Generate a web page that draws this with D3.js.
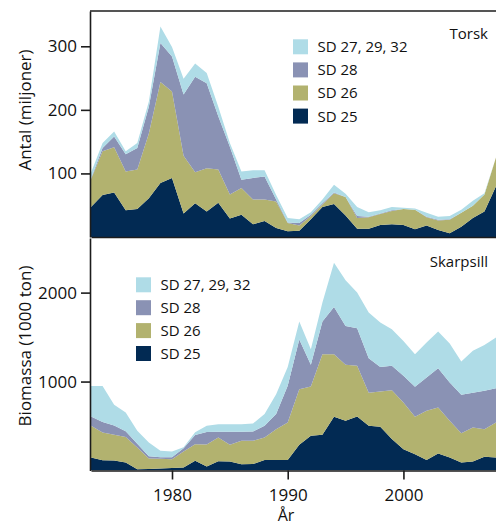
<!DOCTYPE html>
<html>
<head>
<meta charset="utf-8">
<script src="https://cdn.jsdelivr.net/npm/d3@7"></script>
<style>
  html, body { margin: 0; padding: 0; background: #fff; }
  svg { display: block; font-family: "Open Sans", sans-serif; }
</style>
</head>
<body>
<svg id="chart" width="496" height="525"></svg>
<script>
// Years on the x axis
const years = [1973, 1974, 1975, 1976, 1977, 1978, 1979, 1980, 1981, 1982, 1983, 1984,
               1985, 1986, 1987, 1988, 1989, 1990, 1991, 1992, 1993, 1994, 1995, 1996,
               1997, 1998, 1999, 2000, 2001, 2002, 2003, 2004, 2005, 2006, 2007, 2008];

// Subdivisions, stacked bottom to top
const areaKeys   = ["sd25", "sd26", "sd28", "sd27"];
const areaLabels = ["SD 25", "SD 26", "SD 28", "SD 27, 29, 32"];
const areaColors = ["#022a53", "#b2b26f", "#8a92b4", "#afdce7"];

// Torsk, antal (miljoner)
const codSD25 = [47, 66, 70, 42, 44, 61, 85, 93, 37, 53, 40, 54, 29, 35, 20, 25, 14, 9,
                 10, 28, 47, 52, 34, 13, 13, 19, 20, 19, 12, 18, 11, 6, 16, 30, 40, 80];
const codSD26 = [44, 69, 71, 61, 62, 102, 159, 136, 91, 49, 68, 52, 38, 42, 39, 34, 42, 13,
                 8, 5, 4, 17, 29, 17, 18, 17, 21, 25, 31, 13, 15, 21, 22, 19, 27, 45];
const codSD28 = [1, 5, 17, 27, 34, 42, 61, 55, 96, 150, 134, 84, 75, 13, 34, 36, 3, 1,
                 4, 2, 2, 1, 0, 3, 1, 1, 1, 0, 0, 1, 1, 1, 0, 0, 0, 0];
const codSD27 = [9, 8, 8, 5, 8, 8, 26, 15, 25, 21, 16, 15, 6, 13, 12, 10, 7, 7,
                 6, 4, 6, 12, 5, 14, 7, 5, 5, 2, 2, 6, 5, 5, 5, 8, 2, 0];

// Skarpsill, biomassa (1000 ton)
const sprSD25 = [146, 116, 112, 90, 15, 18, 22, 28, 35, 109, 45, 105, 101, 71, 72, 117, 117, 117,
                 290, 390, 401, 603, 559, 607, 502, 491, 353, 240, 184, 117, 191, 147, 91, 102, 154, 147];
const sprSD26 = [356, 311, 289, 288, 243, 117, 109, 99, 178, 187, 247, 266, 188, 263, 262, 254, 348, 423,
                 624, 554, 907, 705, 629, 570, 371, 397, 550, 525, 419, 554, 517, 412, 329, 382, 311, 393];
const sprSD28 = [105, 118, 104, 62, 42, 25, 19, 21, 37, 104, 140, 64, 146, 101, 105, 131, 169, 412,
                 560, 244, 367, 531, 438, 423, 390, 277, 274, 299, 338, 375, 442, 430, 431, 389, 431, 386];
const sprSD27 = [344, 406, 235, 212, 146, 155, 71, 66, 12, 30, 70, 86, 86, 86, 90, 132, 224, 213,
                 200, 176, 213, 498, 513, 400, 513, 498, 412, 393, 367, 393, 412, 439, 374, 472, 516, 569];

// Tick values
const codTicks  = [100, 200, 300];
const sprTicks  = [1000, 2000];
const yearTicks = [1980, 1990, 2000];

const svg = d3.select("#chart");
const lineColor = "#1c1c1c";
const plainInt = d3.format("d");

const x = d3.scaleLinear().domain([1973, 2008]).range([91, 496]);

function rows(a, b, c, d) {
  return years.map((yr, i) => ({ year: yr, sd25: a[i], sd26: b[i], sd28: c[i], sd27: d[i] }));
}

const stack = d3.stack().keys(areaKeys);

function drawPanel(cfg) {
  const y = d3.scaleLinear().domain([0, cfg.max]).range(cfg.yRange);
  const g = svg.append("g");
  const clipId = "clip-" + cfg.id;
  g.append("clipPath").attr("id", clipId)
    .append("rect")
    .attr("x", x.range()[0]).attr("y", cfg.yRange[1])
    .attr("width", x.range()[1] - x.range()[0])
    .attr("height", cfg.yRange[0] - cfg.yRange[1]);

  const area = d3.area()
    .x(d => x(d.data.year))
    .y0(d => y(d[0]))
    .y1(d => y(d[1]));

  g.append("g").attr("clip-path", `url(#${clipId})`)
    .selectAll("path")
    .data(stack(cfg.data))
    .join("path")
    .attr("fill", (d, i) => areaColors[i])
    .attr("d", area);

  // Left axis
  const ax = g.append("g")
    .attr("transform", "translate(90,0)")
    .call(d3.axisLeft(y).tickValues(cfg.ticks).tickFormat(plainInt)
          .tickSize(9).tickSizeOuter(0).tickPadding(4));
  ax.selectAll("path, line").attr("stroke", lineColor).attr("stroke-width", 1.6);
  ax.selectAll("text").attr("font-size", 17).attr("font-family", "Open Sans, sans-serif").attr("fill", "#111");

  // Axis title
  g.append("text")
    .attr("transform", `translate(31,${cfg.titleY}) rotate(-90)`)
    .attr("text-anchor", "middle")
    .attr("font-size", 17)
    .attr("fill", "#111")
    .text(cfg.title);

  // Panel name
  g.append("text")
    .attr("x", 488).attr("y", cfg.nameY)
    .attr("text-anchor", "end")
    .attr("font-size", 15)
    .attr("fill", "#111")
    .text(cfg.name);

  // Legend, top entry is the top layer
  const leg = g.append("g");
  const order = [3, 2, 1, 0];
  order.forEach((k, j) => {
    const ty = cfg.legY + j * cfg.legStep;
    leg.append("rect")
      .attr("x", cfg.legX).attr("y", ty)
      .attr("width", 15).attr("height", 15)
      .attr("fill", areaColors[k]);
    leg.append("text")
      .attr("x", cfg.legX + 24.5).attr("y", ty + 7.5)
      .attr("dy", "0.36em")
      .attr("font-size", 15)
      .attr("fill", "#111")
      .text(areaLabels[k]);
  });

  return { g, y };
}

// Torsk
const codPanel = drawPanel({
  id: "torsk", max: 355.5, yRange: [237, 11], data: rows(codSD25, codSD26, codSD28, codSD27),
  ticks: codTicks, title: "Antal (miljoner)", titleY: 110, name: "Torsk", nameY: 39,
  legX: 293, legY: 39.3, legStep: 23.1
});
// top frame line and baseline of the upper panel
codPanel.g.append("line")
  .attr("x1", 90).attr("x2", 496)
  .attr("y1", codPanel.y(355.5)).attr("y2", codPanel.y(355.5))
  .attr("stroke", lineColor).attr("stroke-width", 1.6);
const codBase = codPanel.g.append("g")
  .attr("transform", `translate(0,${codPanel.y(0)})`)
  .call(d3.axisBottom(x).tickValues([]).tickSizeOuter(0));
codBase.selectAll("path").attr("stroke", lineColor).attr("stroke-width", 1.6);

// Skarpsill
const sprPanel = drawPanel({
  id: "skarpsill", max: 2614, yRange: [470.5, 238], data: rows(sprSD25, sprSD26, sprSD28, sprSD27),
  ticks: sprTicks, title: "Biomassa (1000 ton)", titleY: 346, name: "Skarpsill", nameY: 266.5,
  legX: 136, legY: 277.3, legStep: 22.9
});
const xAx = sprPanel.g.append("g")
  .attr("transform", `translate(0,${sprPanel.y(0)})`)
  .call(d3.axisBottom(x).tickValues(yearTicks).tickFormat(plainInt)
        .tickSize(9).tickSizeOuter(0).tickPadding(9));
xAx.selectAll("path, line").attr("stroke", lineColor).attr("stroke-width", 1.6);
xAx.selectAll("text").attr("font-size", 17).attr("font-family", "Open Sans, sans-serif").attr("fill", "#111");

svg.append("text")
  .attr("x", 286).attr("y", 520.5)
  .attr("text-anchor", "middle")
  .attr("font-size", 16)
  .attr("fill", "#111")
  .text("År");
</script>
</body>
</html>
